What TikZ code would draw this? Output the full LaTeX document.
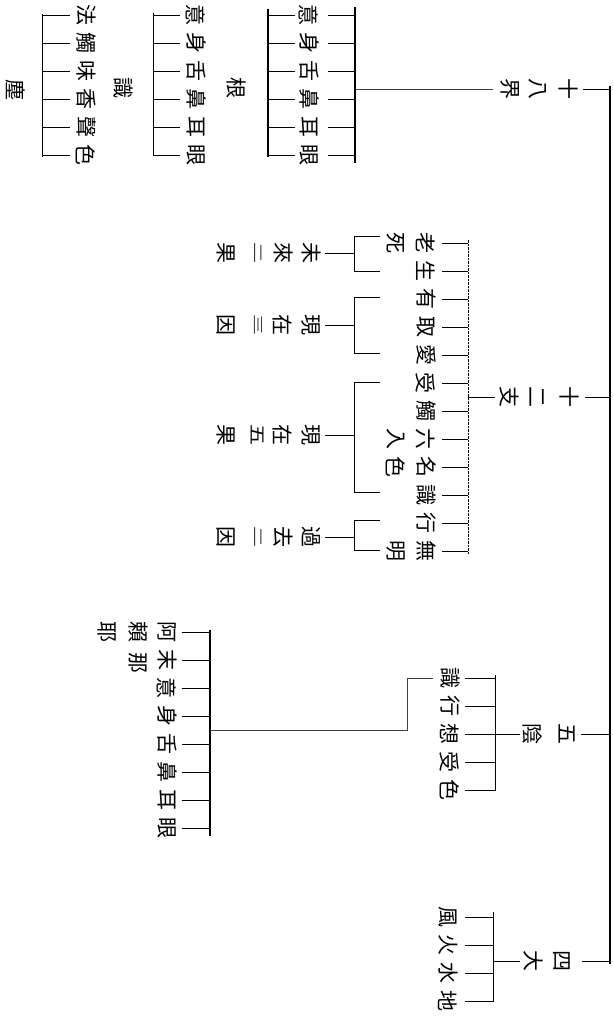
\documentclass[tikz,border=0pt]{standalone}
\usepackage{fontspec}
\newfontfamily\cjk{Noto Sans CJK JP}
\begin{document}
\begin{tikzpicture}[x=1pt,y=-1pt,
  ch/.style={rotate=-90, inner sep=0pt, font=\cjk\fontsize{21}{21}\selectfont},
  smallnum/.style={ch, yscale=#1},
  tk/.style={line width=0.9pt},
  thinbar/.style={line width=0.9pt},
  heavybar/.style={line width=2.4pt},
  dotbar/.style={line width=0.8pt, dash pattern=on 2.5pt off 1pt},
  faint/.style={line width=0.7pt, black!75},
  spine/.style={line width=1.6pt}]
\useasboundingbox (0,0) rectangle (613,1016);

% main spine
\coordinate (sp1) at (610,86);
\coordinate (sp2) at (610,964);
\draw[spine] (sp1) -- (sp2);

% ---------- 十八界 ----------
\node[ch] (a1) at (568,89) {十};
\node[ch] (a2) at (538,89) {八};
\node[ch] (a3) at (510,89) {界};
\draw[tk] ([xshift=15pt]a1.center) -- (a1 -| sp1);
\coordinate (hb1t) at (355,7);
\coordinate (hb1b) at (355,163);
\coordinate (hb2t) at (268,9);
\coordinate (hb2b) at (268,157);
\draw[heavybar] (hb1t) -- (hb1b);
\draw[heavybar] (hb2t) -- (hb2b);
\draw[faint] ([xshift=-17pt]a3.center) -- (a3 -| hb1t);
\foreach \c [count=\i] in {意,身,舌,鼻,耳,眼} {
  \node[ch] (g\i) at (309,{15+28*(\i-1)}) {\c};
  \draw[tk] ([xshift=19pt]g\i.center) -- (g\i -| hb1t);
  \draw[tk] ([xshift=-14pt]g\i.center) -- (g\i -| hb2t);
}
\node[ch] (gl) at (236,88) {根};

\coordinate (sb1t) at (153,13);
\coordinate (sb1b) at (153,156);
\draw[thinbar] (sb1t) -- (sb1b);
\foreach \c [count=\i] in {意,身,舌,鼻,耳,眼} {
  \node[ch] (s\i) at (196,{15+28*(\i-1)}) {\c};
  \draw[tk] ([xshift=-16pt]s\i.center) -- (s\i -| sb1t);
}
\node[ch] (sl) at (123,88) {識};

\coordinate (cb1t) at (42,14);
\coordinate (cb1b) at (42,157);
\draw[thinbar] (cb1t) -- (cb1b);
\foreach \c [count=\i] in {法,觸,味,香,聲,色} {
  \node[ch] (c\i) at (86,{15+28*(\i-1)}) {\c};
  \draw[tk] ([xshift=-16pt]c\i.center) -- (c\i -| cb1t);
}
\node[ch] (cl) at (15,90) {塵};

% ---------- 十二支 ----------
\node[ch] (b1) at (569,397) {十};
\node[ch] (b2) at (537,397) {二};
\node[ch] (b3) at (509,397) {支};
\draw[tk] ([xshift=16pt]b1.center) -- (b1 -| sp1);
\coordinate (db1) at (468,240);
\coordinate (db2) at (468,554);
\draw[dotbar] (db1) -- (db2);
\draw[tk] ([xshift=-14pt]b3.center) -- (b3 -| db1);
\foreach \c [count=\i] in {老,生,有,取,愛,受,觸,六,名,識,行,無} {
  \node[ch] (l\i) at (426,{243+28*(\i-1)}) {\c};
  \draw[tk] ([xshift=16pt]l\i.center) -- (l\i -| db1);
}
\foreach \c/\i in {死/1,入/8,色/9,明/12} {
  \node[ch] (m\i) at (396,{243+28*(\i-1)}) {\c};
}
% brackets
\foreach \t/\b/\m/\k in {236/271/253/1, 297/353/325/2, 382/492/435/3, 520/550/537/4} {
  \coordinate (bt\k) at (354,\t);
  \coordinate (bb\k) at (354,\b);
  \draw[tk] ([xshift=26pt]bt\k) -- (bt\k) -- (bb\k) -- ([xshift=26pt]bb\k);
  \coordinate (bm\k) at (354,\m);
}
\foreach \p/\q/\r/\f/\s/\k in {未/來/二/0.5/果/1, 現/在/三/0.5/因/2, 現/在/五/0.8/果/3, 過/去/二/0.5/因/4} {
  \node[ch] (t\k a) at (311,0 |- bm\k) {\p};
  \node[ch] (t\k b) at (283,0 |- bm\k) {\q};
  \node[smallnum=\f] (t\k c) at (258,0 |- bm\k) {\r};
  \node[ch] (t\k d) at (226,0 |- bm\k) {\s};
  \draw[tk] ([xshift=14pt]t\k a.center) -- (bm\k);
}

% ---------- 五陰 ----------
\node[ch] (e1) at (567,734) {五};
\node[ch] (e2) at (532,734) {陰};
\draw[tk] ([xshift=14pt]e1.center) -- (e1 -| sp1);
\coordinate (eb1) at (495,675);
\coordinate (eb2) at (495,791);
\draw[thinbar] (eb1) -- (eb2);
\draw[tk] ([xshift=-12pt]e2.center) -- (e2 -| eb1);
\foreach \c [count=\i] in {識,行,想,受,色} {
  \node[ch] (p\i) at (450,{678+28*(\i-1)}) {\c};
  \draw[tk] ([xshift=15pt]p\i.center) -- (p\i -| eb1);
}
\coordinate (fb1) at (210,630);
\coordinate (fb2) at (210,836);
\draw[heavybar] (fb1) -- (fb2);
\coordinate (kn) at (407,730);
\draw[faint] ([xshift=-17pt]p1.center) -| (kn) -- (kn -| fb1);
\foreach \c [count=\i] in {阿,末,意,身,舌,鼻,耳,眼} {
  \node[ch] (v\i) at (167,{632+28*(\i-1)}) {\c};
  \draw[tk] ([xshift=15pt]v\i.center) -- (v\i -| fb1);
}
\node[ch] (w1) at (138,632) {賴};
\node[ch] (w2) at (107,632) {耶};
\node[ch] (w3) at (138,663) {那};

% ---------- 四大 ----------
\node[ch] (q1) at (562,961) {四};
\node[ch] (q2) at (533,961) {大};
\draw[tk] ([xshift=20pt]q1.center) -- (q1 -| sp1);
\coordinate (hb3t) at (493,912);
\coordinate (hb3b) at (493,1002);
\draw[thinbar] (hb3t) -- (hb3b);
\draw[tk] ([xshift=-13pt]q2.center) -- (q2 -| hb3t);
\foreach \c [count=\i] in {風,火,水,地} {
  \node[ch] (r\i) at (448,{917+28*(\i-1)}) {\c};
  \draw[tk] ([xshift=17pt]r\i.center) -- (r\i -| hb3t);
}
\end{tikzpicture}
\end{document}
